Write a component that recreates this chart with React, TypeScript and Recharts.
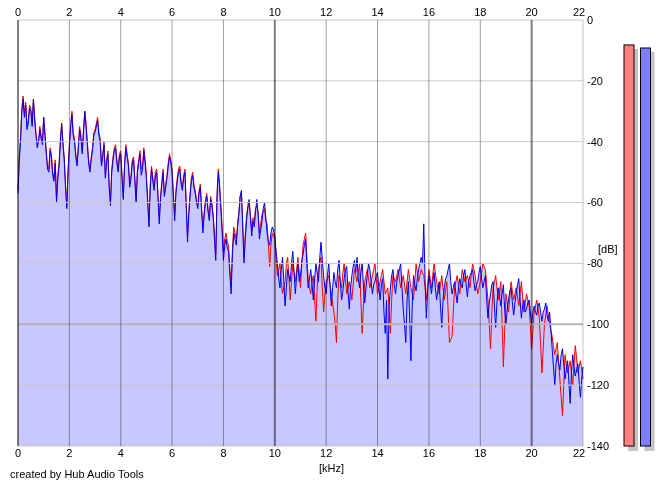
import {
  ComposedChart,
  BarChart,
  Bar,
  Cell,
  Area,
  Line,
  XAxis,
  YAxis,
  ReferenceLine,
  Label,
} from 'recharts'

// spectrum bins, 0.05 kHz apart, 0 .. 22 kHz (one row per kHz)
const freqStepKHz = 0.05

const leftChannel = [
  -56, -45, -38, -29, -25, -31, -27, -35, -33, -28, -29, -34, -26, -32, -37, -41, -40, -35, -38, -40,
  -32, -37, -43, -48, -49, -42, -44, -50, -52, -46, -59, -51, -47, -39, -34, -40, -45, -54, -61, -49,
  -41, -34, -30, -37, -39, -44, -47, -41, -35, -38, -43, -36, -30, -34, -40, -46, -49, -45, -42, -37,
  -36, -34, -32, -37, -39, -47, -44, -40, -51, -46, -43, -54, -60, -49, -45, -42, -41, -46, -49, -44,
  -43, -51, -58, -47, -41, -44, -47, -54, -51, -46, -45, -52, -59, -49, -46, -43, -49, -48, -42, -46,
  -51, -59, -66, -54, -48, -52, -55, -50, -49, -57, -65, -58, -53, -49, -57, -54, -51, -47, -44, -46,
  -49, -57, -64, -56, -52, -49, -48, -53, -55, -51, -49, -60, -71, -63, -57, -52, -50, -54, -56, -59,
  -61, -56, -54, -62, -68, -63, -59, -57, -62, -65, -58, -60, -64, -70, -77, -57, -49, -54, -61, -68,
  -76, -72, -70, -73, -74, -82, -86, -75, -68, -70, -72, -67, -63, -58, -57, -67, -78, -70, -64, -62,
  -60, -64, -69, -65, -66, -62, -61, -63, -70, -67, -64, -63, -62, -66, -67, -74, -81, -74, -70, -71,
  -72, -78, -84, -82, -80, -86, -90, -88, -86, -80, -78, -85, -92, -86, -80, -83, -86, -82, -78, -83,
  -88, -80, -74, -72, -70, -78, -85, -88, -90, -86, -84, -92, -99, -88, -82, -80, -78, -88, -96, -90,
  -86, -85, -84, -87, -90, -93, -96, -100, -106, -92, -84, -86, -88, -83, -80, -85, -90, -88, -86, -89,
  -92, -87, -82, -84, -86, -83, -80, -92, -103, -94, -86, -84, -82, -85, -88, -86, -84, -82, -80, -85,
  -90, -88, -86, -84, -82, -86, -90, -89, -88, -95, -103, -92, -84, -85, -86, -84, -82, -85, -88, -86,
  -84, -87, -90, -86, -82, -85, -88, -90, -92, -86, -80, -83, -86, -84, -82, -83, -84, -88, -92, -87,
  -82, -85, -88, -84, -80, -83, -86, -88, -90, -87, -84, -88, -92, -89, -86, -96, -106, -105, -104, -96,
  -88, -86, -84, -87, -90, -86, -82, -84, -86, -85, -84, -86, -88, -84, -80, -82, -84, -87, -90, -88,
  -86, -83, -80, -81, -82, -87, -92, -100, -108, -96, -88, -86, -84, -88, -92, -89, -86, -100, -114, -102,
  -90, -93, -96, -91, -86, -89, -92, -90, -88, -91, -94, -90, -86, -91, -96, -93, -90, -92, -94, -100,
  -108, -102, -96, -94, -92, -95, -98, -107, -116, -108, -100, -97, -94, -97, -100, -102, -104, -107, -110, -108,
  -106, -112, -118, -124, -130, -120, -110, -113, -116, -114, -112, -116, -120, -113, -107, -111, -116, -114, -112, -115,
  -118,
]

const rightChannel = [
  -57, -46, -40, -30, -26, -32, -28, -36, -34, -29, -30, -35, -26, -33, -38, -42, -40, -36, -39, -41,
  -32, -38, -44, -49, -50, -43, -45, -51, -53, -47, -60, -52, -48, -40, -34, -41, -46, -55, -62, -50,
  -42, -35, -31, -38, -40, -45, -48, -42, -36, -39, -44, -37, -30, -35, -41, -47, -50, -46, -43, -38,
  -37, -35, -33, -38, -40, -48, -45, -41, -52, -47, -44, -55, -61, -50, -46, -43, -42, -47, -50, -45,
  -44, -52, -59, -48, -42, -45, -48, -55, -52, -47, -46, -53, -60, -50, -47, -44, -51, -49, -43, -47,
  -52, -60, -68, -55, -49, -53, -56, -51, -50, -58, -67, -59, -54, -50, -58, -55, -52, -48, -45, -47,
  -50, -58, -66, -57, -53, -50, -49, -54, -56, -52, -50, -61, -73, -64, -58, -53, -51, -55, -57, -60,
  -62, -57, -55, -63, -70, -64, -60, -58, -63, -66, -59, -61, -65, -72, -79, -58, -50, -55, -62, -70,
  -79, -74, -72, -75, -76, -84, -90, -77, -70, -72, -74, -68, -64, -58, -56, -68, -80, -72, -66, -61,
  -59, -65, -71, -66, -68, -63, -59, -64, -72, -69, -66, -62, -60, -65, -70, -73, -74, -70, -68, -69,
  -71, -76, -80, -85, -88, -82, -78, -86, -94, -88, -82, -84, -86, -80, -76, -83, -90, -84, -80, -86,
  -84, -79, -77, -74, -72, -81, -88, -85, -82, -87, -92, -85, -80, -83, -86, -78, -73, -79, -84, -88,
  -90, -84, -80, -87, -94, -88, -83, -86, -88, -82, -79, -86, -92, -89, -85, -82, -81, -89, -95, -88,
  -84, -81, -79, -83, -78, -85, -88, -83, -80, -87, -93, -88, -84, -80, -82, -86, -90, -87, -86, -84,
  -83, -88, -92, -87, -85, -96, -103, -92, -118, -94, -88, -84, -82, -87, -90, -86, -84, -82, -80, -88,
  -95, -100, -106, -92, -86, -98, -112, -94, -84, -87, -89, -85, -82, -80, -78, -80, -67, -85, -98, -89,
  -84, -87, -90, -86, -83, -88, -92, -89, -86, -94, -101, -92, -88, -85, -84, -82, -80, -86, -90, -88,
  -86, -90, -93, -88, -85, -87, -88, -84, -82, -87, -91, -86, -84, -83, -82, -86, -89, -87, -86, -83,
  -81, -85, -88, -86, -84, -92, -98, -93, -90, -87, -86, -94, -101, -93, -88, -91, -94, -90, -87, -95,
  -100, -95, -92, -89, -88, -93, -97, -93, -90, -87, -85, -92, -98, -94, -92, -96, -95, -93, -92, -96,
  -100, -96, -94, -96, -97, -94, -93, -96, -99, -96, -95, -93, -97, -99, -96, -102, -108, -114, -120, -113,
  -110, -113, -115, -110, -108, -113, -118, -115, -112, -119, -126, -116, -110, -114, -117, -115, -113, -119, -124, -118,
  -114,
]

const freqTicks = [0, 2, 4, 6, 8, 10, 12, 14, 16, 18, 20, 22]
const dbTicks = [0, -20, -40, -60, -80, -100, -120, -140]

// peak meters on the right (dB)
const meterChannels = ['L', 'R']
const meterLevels = [-8.2, -9.2]
const meterColors = ['#ff8080', '#8080ff']

const spectrum = rightChannel.map((r, i) => ({
  khz: Math.round(i * freqStepKHz * 100) / 100,
  left: leftChannel[i],
  right: r,
  fill: Math.max(r, leftChannel[i]),
}))

const meters = meterChannels.map((ch, i) => ({ ch, range: [-140, meterLevels[i]] }))

const tickStyle = { fill: '#000', fontSize: 11 }

// the last frequency label sits a bit left so it clears the dB scale
const FreqTick = (props: any) => {
  const { x, y, payload, top } = props
  const v = payload.value
  return (
    <text
      x={v === 22 ? x - 4 : x}
      y={y}
      dy={top ? 0 : '0.71em'}
      textAnchor="middle"
      fill="#000"
      fontSize={11}
    >
      {v}
    </text>
  )
}

const MeterBar = (props: any) => {
  const { x, y, width, height, fill } = props
  return (
    <g>
      <rect x={x + 4} y={y + 4} width={width} height={height + 1} fill="#c4c4c4" />
      <rect x={x} y={y} width={width} height={height} fill={fill} stroke="#000" strokeWidth={1} />
    </g>
  )
}

const gridColor = (v: number) => {
  if (v === 0 || v === 10 || v === 20) return '#808080'
  if (v === 22) return '#c4c4c4'
  return '#a0a0a0'
}

export default function App() {
  return (
    <div
      style={{
        position: 'absolute',
        left: 0,
        top: 0,
        width: 665,
        height: 487,
        background: '#fff',
        fontFamily: '"Liberation Sans", Arial, sans-serif',
      }}
    >
      <style>{'.vgrid { mix-blend-mode: multiply; }'}</style>
      <ComposedChart
        width={665}
        height={487}
        data={spectrum}
        margin={{ top: 0, right: 0, bottom: 0, left: 18 }}
      >
        <XAxis
          xAxisId="top"
          orientation="top"
          dataKey="khz"
          type="number"
          domain={[0, 22]}
          ticks={freqTicks}
          height={20}
          tickLine={false}
          axisLine={false}
          tickSize={0}
          tickMargin={4}
          tick={<FreqTick top />}
          interval={0}
        />
        <XAxis
          xAxisId="bottom"
          dataKey="khz"
          type="number"
          domain={[0, 22]}
          ticks={freqTicks}
          height={41}
          tickLine={false}
          axisLine={false}
          tickSize={0}
          tickMargin={3}
          tick={<FreqTick />}
          interval={0}
        >
          <Label value="[kHz]" position="insideBottom" dx={31} dy={-10} fill="#000" fontSize={11} />
        </XAxis>
        <YAxis
          orientation="right"
          type="number"
          domain={[-140, 0]}
          ticks={dbTicks}
          width={82}
          tickLine={false}
          axisLine={false}
          tickSize={0}
          tickMargin={4}
          tick={tickStyle}
          interval={0}
        >
          <Label value="[dB]" position="insideLeft" dx={10} dy={16} fill="#000" fontSize={11} />
        </YAxis>

        <Area
          xAxisId="bottom"
          type="linear"
          dataKey="fill"
          baseValue={-140}
          fill="#c8c8ff"
          fillOpacity={1}
          stroke="none"
          isAnimationActive={false}
        />
        <Line
          xAxisId="bottom"
          type="linear"
          dataKey="left"
          stroke="#ff0000"
          strokeWidth={1}
          dot={false}
          isAnimationActive={false}
        />
        <Line
          xAxisId="bottom"
          type="linear"
          dataKey="right"
          stroke="#0000f0"
          strokeWidth={1}
          dot={false}
          isAnimationActive={false}
        />

        {dbTicks.map((v) => (
          <ReferenceLine
            key={'h' + v}
            xAxisId="bottom"
            y={v}
            stroke={v === -100 ? '#b4b4b4' : '#c8c8c8'}
            strokeWidth={v === -100 ? 2 : 1}
          />
        ))}
        {freqTicks.map((v) => (
          <ReferenceLine
            key={'v' + v}
            xAxisId="bottom"
            x={v}
            stroke={gridColor(v)}
            strokeWidth={v === 0 || v === 10 || v === 20 ? 2 : 1}
            className="vgrid"
          />
        ))}
      </ComposedChart>

      <div style={{ position: 'absolute', left: 621, top: 0 }}>
        <BarChart
          width={44}
          height={487}
          data={meters}
          margin={{ top: 20, right: 11, bottom: 41, left: 0 }}
        >
          <XAxis dataKey="ch" hide />
          <YAxis type="number" domain={[-140, 0]} hide />
          <Bar dataKey="range" barSize={10} shape={MeterBar} isAnimationActive={false}>
            {meters.map((m, i) => (
              <Cell key={m.ch} fill={meterColors[i]} />
            ))}
          </Bar>
        </BarChart>
      </div>

      <div
        style={{
          position: 'absolute',
          left: 10,
          top: 468,
          fontSize: 11,
          lineHeight: '12px',
          color: '#000',
        }}
      >
        created by Hub Audio Tools
      </div>
    </div>
  )
}
